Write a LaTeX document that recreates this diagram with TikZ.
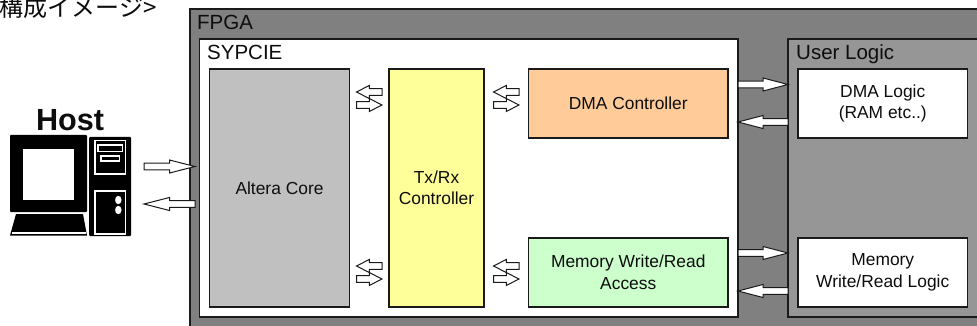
\documentclass[tikz,border=0pt]{standalone}
\usepackage{fontspec}
\setmainfont{Liberation Sans}
\newfontfamily\jpfont{Noto Sans CJK JP}
\usetikzlibrary{calc}
\definecolor{fpgagray}{HTML}{808080}
\definecolor{ulgray}{HTML}{969696}
\definecolor{coregray}{HTML}{C0C0C0}
\definecolor{txyellow}{HTML}{FFFF99}
\definecolor{dmaorange}{HTML}{FFCC99}
\definecolor{memgreen}{HTML}{CCFFCC}
\definecolor{edge}{HTML}{1A1A1A}
\newcommand{\bx}[6]{% name, x0, y0, x1, y1, style
  \node[#6, minimum width=#4pt-#2pt, minimum height=#5pt-#3pt] (#1) at ({(#2+#4)/2},{(#3+#5)/2}) {};}
\tikzset{
  x=1pt, y=-1pt,
  box/.style={draw=edge, line width=1.1pt, inner sep=0pt, outer sep=0pt, rectangle},
  lbl/.style={inner sep=0pt, align=center, text=black!95, font=\fontsize{17.4}{21.5}\selectfont},
  hdr/.style={inner sep=0pt, anchor=base west, text=black!95, font=\fontsize{20.5}{24}\selectfont},
  whiteline/.style={draw=white, line width=1.1pt},
  blockarrow/.style={draw=edge, fill=white, line width=1pt, line join=miter, miter limit=10,
    to path={ let \p1=(\tikztostart), \p2=(\tikztotarget) in
      (\x1,\y1+3.3pt) -- ({\x1+(\x2-\x1)*0.5},\y1+3.3pt) -- ({\x1+(\x2-\x1)*0.5},\y1+6.5pt)
      -- (\x2,\y1) -- ({\x1+(\x2-\x1)*0.5},\y1-6.5pt) -- ({\x1+(\x2-\x1)*0.5},\y1-3.3pt)
      -- (\x1,\y1-3.3pt) -- cycle}}
}
\begin{document}
\begin{tikzpicture}
\useasboundingbox (0,0) rectangle (977,326);
\begin{scope}
\clip (0,0) rectangle (977,326);
\node[anchor=base east, inner sep=0pt, text=black!95, font=\jpfont\fontsize{24}{28}\selectfont] (title) at (157,16.5) {構成イメージ>};
\bx{fpga}{190}{9}{990}{340}{box, fill=fpgagray}
\bx{sypcie}{199.5}{39}{738}{317}{box, fill=white}
\bx{userlogic}{788}{39}{990}{317}{box, fill=ulgray}
\end{scope}
\node[hdr] (fpgat) at (197,30) {FPGA};
\node[hdr] (sypt) at (207,60) {SYPCIE};
\node[hdr] (ult) at (796,60) {User Logic};
\bx{core}{209.5}{69}{349.5}{307}{box, fill=coregray}
\bx{txrx}{389}{69}{484}{307}{box, fill=txyellow}
\bx{dma}{528.5}{69}{728}{138}{box, fill=dmaorange}
\bx{mem}{528.5}{238}{728}{307}{box, fill=memgreen}
\bx{dmal}{798}{69}{967.5}{138}{box, fill=white}
\bx{meml}{798}{238}{967.5}{307}{box, fill=white}
\node[lbl] (coret) at (core.center) {Altera Core};
\node[lbl] (txt) at (txrx.center) {Tx/Rx\\Controller};
\node[lbl] (dmat) at (dma.center) {DMA Controller};
\node[lbl] (memt) at (mem.center) {Memory Write/Read\\Access};
\node[lbl] (dmalt) at (dmal.center) {DMA Logic\\(RAM etc..)};
\node[lbl] (memlt) at (meml.center) {Memory\\Write/Read Logic};
% host
\node[anchor=base, inner sep=0pt, text=black!95, font=\bfseries\fontsize{30.6}{34}\selectfont] (hostt) at (70,131) {Host};
\fill[black, rounded corners=1pt] (10,135) rectangle (87,212);
\fill[white] (23,149) rectangle (74,199.5);
\fill[black] (16,214) -- (83,214) -- (87,235.5) -- (10,235.5) -- cycle;
\fill[white] (12,231.5) rectangle (85.5,233.5);
\fill[black, rounded corners=1pt] (89,137) rectangle (131,236);
\draw[whiteline] (95,140.5) rectangle (125.5,174);
\draw[whiteline] (98,145) rectangle (122.5,151.5);
\draw[whiteline] (101,156) rectangle (119.5,161);
\draw[whiteline] (95,191) rectangle (125.5,234);
\fill[white] (118.3,200) ellipse [x radius=3.2pt, y radius=4.2pt];
\fill[white] (118.3,210) ellipse [x radius=3.2pt, y radius=4.2pt];
\coordinate (hostr) at (144,166.5);
\coordinate (hostl) at (144,204);
\coordinate (hostrend) at (195,166.5);
\coordinate (hostlend) at (195,204);
% arrows
\draw[blockarrow] (hostr) to (hostrend);
\draw[blockarrow] (hostlend) to (hostl);
\foreach \n/\y in {a/92,b/105,c/266,d/279}{
  \coordinate (p\n) at (356.5,\y);
  \coordinate (q\n) at (382,\y);
  \coordinate (r\n) at (493.5,\y);
  \coordinate (s\n) at (519,\y);
}
\foreach \a/\b in {qa/pa,pb/qb,qc/pc,pd/qd,sa/ra,rb/sb,sc/rc,rd/sd}
  \draw[blockarrow] (\a) to (\b);
\coordinate (ua) at (738,84.5);
\coordinate (ub) at (738,122);
\coordinate (uc) at (738,253);
\coordinate (ud) at (738,291);
\draw[blockarrow] (ua) to (userlogic.west |- ua);
\draw[blockarrow] (userlogic.west |- ub) to (ub);
\draw[blockarrow] (uc) to (userlogic.west |- uc);
\draw[blockarrow] (userlogic.west |- ud) to (ud);
\end{tikzpicture}
\end{document}
